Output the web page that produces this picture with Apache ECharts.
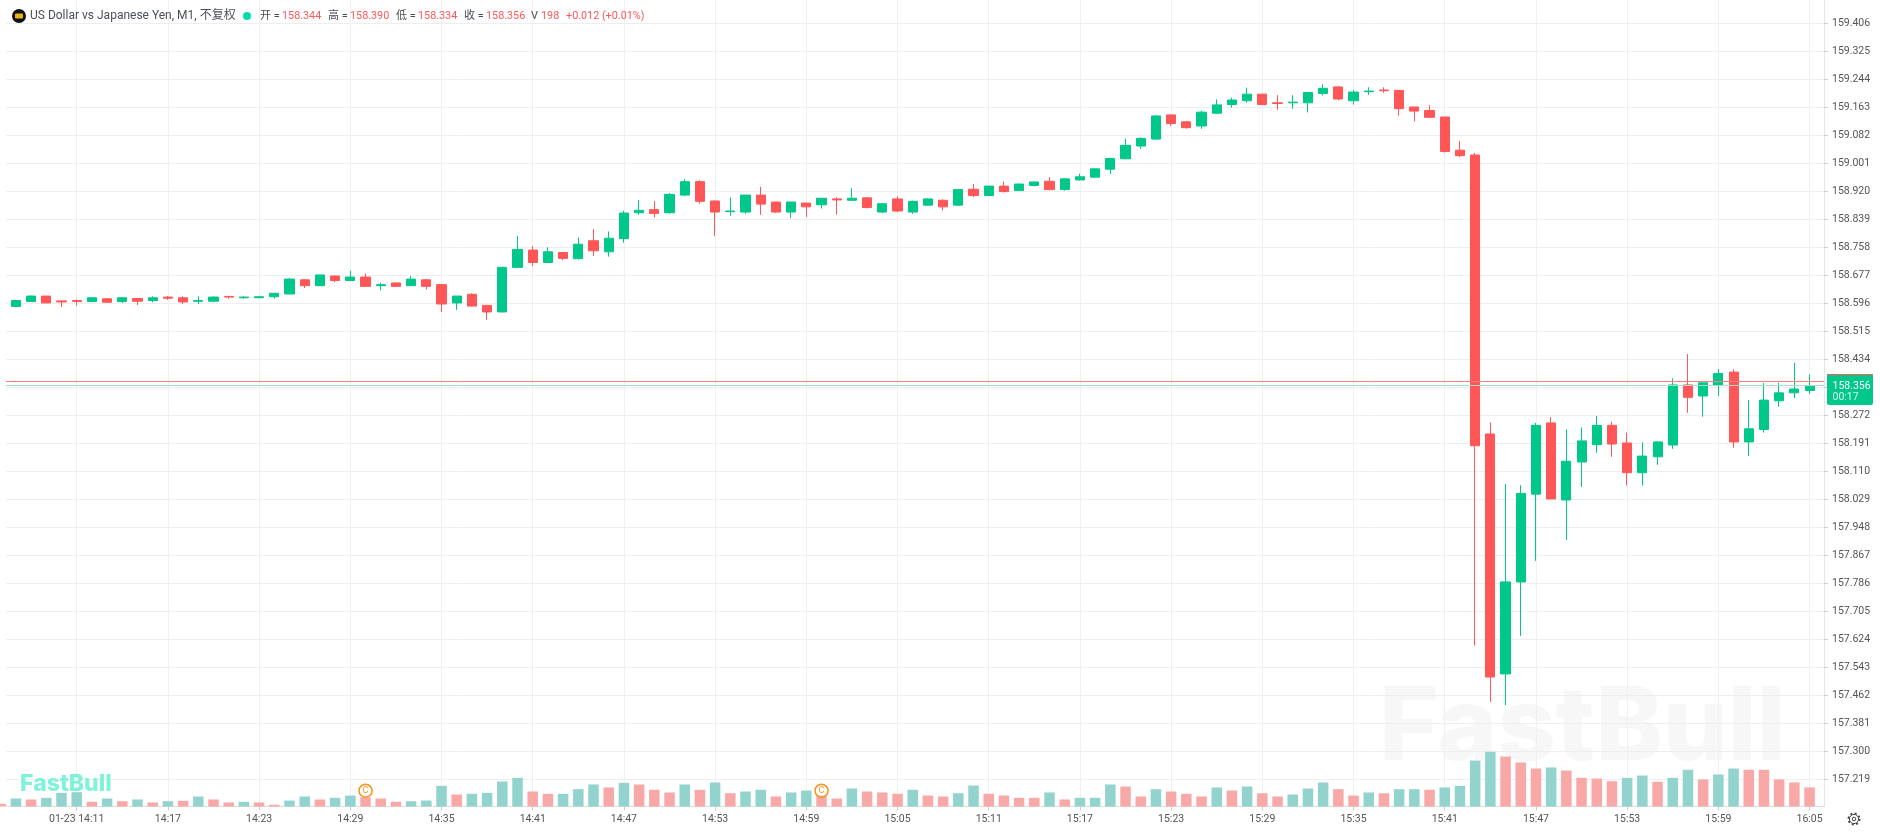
<!DOCTYPE html>
<html lang="zh">
  <head>
    <meta charset="UTF-8" />
    <title>US Dollar vs Japanese Yen, M1</title>
    <script src="https://cdn.jsdelivr.net/npm/echarts@6/dist/echarts.min.js"></script>
    <style>
      body { margin: 0; background: #fff; }
    </style>
  </head>
  <body>
    <div id="main" style="width: 1880px; height: 833px"></div>

    <script type="text/javascript">
      // one entry per minute, 14:06 to 16:05
      const opens = [
        158.597,158.587,158.601,158.617,158.603,158.604,158.601,158.609,158.601,158.610,
        158.604,158.614,158.612,158.602,158.602,158.616,158.612,158.612,158.615,158.623,
        158.664,158.647,158.675,158.662,158.672,158.647,158.655,158.647,158.664,158.650,
        158.597,158.622,158.590,158.571,158.700,158.750,158.714,158.743,158.725,158.777,
        158.745,158.783,158.858,158.867,158.858,158.909,158.948,158.892,158.861,158.860,
        158.909,158.889,158.860,158.886,158.881,158.898,158.894,158.901,158.860,158.898,
        158.860,158.880,158.894,158.880,158.926,158.908,158.935,158.922,158.937,158.949,
        158.925,158.953,158.961,158.984,159.014,159.051,159.071,159.141,159.121,159.109,
        159.146,159.171,159.182,159.201,159.176,159.176,159.176,159.203,159.222,159.182,
        159.208,159.213,159.212,159.164,159.154,159.135,159.039,159.025,158.218,157.524,
        157.790,158.044,158.250,158.027,158.137,158.187,158.243,158.192,158.106,158.152,
        158.186,158.360,158.328,158.360,158.397,158.195,158.231,158.314,158.337,158.344
      ];
      const closes = [
        158.587,158.604,158.617,158.597,158.600,158.601,158.612,158.599,158.612,158.602,
        158.612,158.611,158.600,158.604,158.614,158.614,158.614,158.615,158.625,158.666,
        158.647,158.678,158.662,158.672,158.645,158.650,158.645,158.666,158.645,158.594,
        158.617,158.588,158.571,158.700,158.752,158.714,158.745,158.726,158.767,158.748,
        158.784,158.857,158.865,158.856,158.911,158.948,158.891,158.860,158.863,158.909,
        158.883,158.860,158.889,158.875,158.900,158.895,158.900,158.873,158.884,158.863,
        158.891,158.898,158.875,158.925,158.908,158.935,158.919,158.941,158.947,158.925,
        158.956,158.962,158.985,159.015,159.053,159.073,159.138,159.116,159.104,159.149,
        159.170,159.184,159.201,159.171,159.174,159.178,159.206,159.218,159.187,159.207,
        159.210,159.211,159.159,159.152,159.134,159.035,159.023,158.184,157.515,157.790,
        158.046,158.243,158.030,158.139,158.198,158.243,158.189,158.106,158.154,158.195,
        158.360,158.324,158.366,158.393,158.195,158.233,158.316,158.337,158.348,158.356
      ];
      const lows = [
        158.586,158.585,158.600,158.597,158.585,158.589,158.601,158.598,158.597,158.591,
        158.599,158.606,158.594,158.594,158.599,158.609,158.609,158.611,158.610,158.622,
        158.640,158.647,158.657,158.661,158.643,158.634,158.644,158.646,158.636,158.571,
        158.577,158.587,158.548,158.570,158.698,158.704,158.712,158.721,158.723,158.733,
        158.731,158.771,158.852,158.844,158.855,158.906,158.884,158.791,158.849,158.855,
        158.852,158.857,158.843,158.846,158.870,158.853,158.892,158.871,158.857,158.860,
        158.855,158.878,158.865,158.878,158.903,158.906,158.917,158.921,158.934,158.923,
        158.922,158.951,158.960,158.970,159.013,159.043,159.070,159.109,159.101,159.101,
        159.145,159.162,159.176,159.171,159.156,159.159,159.148,159.197,159.184,159.171,
        159.199,159.205,159.139,159.122,159.134,159.032,159.019,157.606,157.443,157.434,
        157.634,157.851,158.030,157.911,158.065,158.164,158.152,158.069,158.069,158.129,
        158.175,158.279,158.268,158.328,158.178,158.154,158.222,158.297,158.322,158.334
      ];
      const highs = [
        158.598,158.606,158.619,158.617,158.604,158.607,158.614,158.611,158.614,158.611,
        158.616,158.617,158.616,158.616,158.616,158.617,158.617,158.616,158.626,158.670,
        158.666,158.678,158.677,158.690,158.682,158.655,158.655,158.675,158.666,158.652,
        158.617,158.625,158.591,158.702,158.791,158.761,158.758,158.744,158.786,158.811,
        158.804,158.864,158.895,158.892,158.915,158.955,158.952,158.894,158.902,158.909,
        158.933,158.889,158.889,158.886,158.900,158.903,158.929,158.903,158.886,158.905,
        158.893,158.900,158.897,158.927,158.941,158.937,158.948,158.942,158.948,158.961,
        158.957,158.971,158.985,159.016,159.072,159.076,159.140,159.142,159.123,159.153,
        159.186,159.191,159.220,159.201,159.198,159.198,159.206,159.230,159.225,159.213,
        159.221,159.221,159.213,159.164,159.169,159.135,159.066,159.031,158.251,158.073,
        158.070,158.250,158.267,158.231,158.237,158.270,158.253,158.222,158.194,158.197,
        158.379,158.449,158.366,158.406,158.405,158.316,158.365,158.366,158.424,158.390
      ];
      const volumes = [
        28,83,73,90,142,149,49,83,55,73,
        42,55,59,104,73,42,49,42,18,62,
        104,73,90,114,97,83,49,55,62,215,
        125,132,142,260,298,156,132,132,180,229,
        198,246,229,174,146,229,174,250,138,156,
        174,104,146,166,114,83,187,156,146,132,
        174,114,104,138,218,132,114,90,90,146,
        73,90,90,229,208,104,180,156,132,104,
        198,166,208,138,104,125,187,250,180,114,
        146,138,180,180,174,198,215,478,569,520,
        458,395,406,374,298,291,263,298,322,257,
        298,382,281,333,395,382,382,281,250,198
      ];
      // volume bar colour per minute: u = teal, d = pink
      const volumeSides = [
        "duduuududu", "dududduddu", "uduuddduuu", "duuuudduuu",
        "dudddududu", "uduudduddd", "udduuddddu", "duuudduddd",
        "ududduuudd", "uduuduuuud", "ddudddduud", "uuduuddddd",
      ].join("");
      const xTickMinutes = [5,11,17,23,29,35,41,47,53,59,65,71,77,83,89,95,101,107,113,119];
      const xTickLabels = ["01-23 14:11","14:17","14:23","14:29","14:35","14:41","14:47","14:53","14:59","15:05",
        "15:11","15:17","15:23","15:29","15:35","15:41","15:47","15:53","15:59","16:05"];
      const yTicks = [159.406,159.325,159.244,159.163,159.082,159.001,158.920,158.839,158.758,158.677,
        158.596,158.515,158.434,158.353,158.272,158.191,158.110,158.029,157.948,157.867,
        157.786,157.705,157.624,157.543,157.462,157.381,157.300,157.219];
      const eventMinutes = [24, 54];
      const eventLevel = 164;
      const lastClose = 158.356;
      const lastOpenLine = 158.366;

      const UP = "#00C78A";
      const DOWN = "#FF5757";
      const FONT = 'Roboto, "Noto Sans CJK SC", sans-serif';

      const candles = opens.map((o, i) => [i, o, closes[i], lows[i], highs[i]]);
      const volumeBars = volumes.map((v, i) => [i, v]);

      function headerText(x, text, fill, font) {
        return {
          type: "text", x: x, y: 16, z: 10, silent: true,
          style: { text: text, fill: fill, font: font || "12px " + FONT, textVerticalAlign: "middle" },
        };
      }
      function headerValue(x, text) {
        return headerText(x, text, DOWN, "10.8px " + FONT);
      }

      let myChart = echarts.init(document.getElementById("main"));

      myChart.setOption({
        animation: false,
        backgroundColor: "#fff",
        grid: { left: 6, right: 56, top: 0, bottom: 26.5 },
        xAxis: {
          type: "value",
          min: 0.349,
          max: 119.95,
          axisLine: { lineStyle: { color: "#ddd" }, onZero: false },
          axisTick: { length: 4, lineStyle: { color: "#ccc" }, customValues: xTickMinutes },
          axisLabel: {
            customValues: xTickMinutes,
            margin: 8,
            fontSize: 10.5,
            fontFamily: FONT,
            color: "#555",
            formatter: (value) => xTickLabels[xTickMinutes.indexOf(value)],
          },
          splitLine: { show: true, lineStyle: { color: "#f0f0f0" } },
        },
        yAxis: [
          {
            type: "value",
            position: "right",
            min: 157.1404,
            max: 159.4734,
            axisLine: { show: true, lineStyle: { color: "#e6e6e6" } },
            axisTick: { show: true, length: 4, lineStyle: { color: "#ccc" }, customValues: yTicks },
            axisLabel: {
              customValues: yTicks,
              margin: 8,
              fontSize: 10.5,
              fontFamily: FONT,
              color: "#555",
              padding: [2, 0, 0, 0],
              formatter: (value) => value.toFixed(3),
            },
            splitLine: { show: true, lineStyle: { color: "#eeeeee" } },
          },
          { type: "value", min: 0, max: 8388, show: false, splitLine: { show: false } },
        ],
        series: [
          {
            type: "bar",
            yAxisIndex: 1,
            barWidth: 10.5,
            data: volumeBars,
            itemStyle: {
              color: (p) => (volumeSides[p.dataIndex] === "u" ? "#92D3CD" : "#F9A8A8"),
            },
            z: 1,
          },
          {
            type: "candlestick",
            barWidth: 9.6,
            data: candles,
            encode: { x: 0, y: [1, 2, 3, 4] },
            itemStyle: { color: UP, color0: DOWN, borderColor: UP, borderColor0: DOWN, borderWidth: 1 },
            markLine: {
              silent: true,
              symbol: "none",
              label: { show: false },
              data: [
                { yAxis: lastOpenLine, lineStyle: { color: "#FF7F7A", width: 1, type: "solid" } },
                { yAxis: lastClose, lineStyle: { color: "#A5DECD", width: 1, type: "solid" } },
              ],
            },
            z: 3,
          },
          {
            type: "scatter",
            data: eventMinutes.map((m) => [m, eventLevel]),
            yAxisIndex: 1,
            symbol: "circle",
            symbolSize: 13,
            itemStyle: { color: "rgba(255,255,255,0.15)", borderColor: "#F7931A", borderWidth: 1.5, opacity: 1 },
            label: { show: true, position: "inside", formatter: "C", fontSize: 9, fontFamily: FONT, color: "#F7931A" },
            z: 5,
          },
        ],
        graphic: [
          // watermark behind the series
          {
            type: "text", x: 1379, y: 729, z: -1, silent: true,
            style: {
              text: "FastBull", font: "800 102px Inter, sans-serif", fill: "rgba(238,238,238,0.45)",
              textVerticalAlign: "middle", shadowBlur: 12, shadowColor: "rgba(0,0,0,0.06)",
            },
          },
          {
            type: "text", x: 20, y: 784, z: 10, silent: true,
            style: { text: "FastBull", font: "800 23px Inter, sans-serif", fill: "#7FF3DA", textVerticalAlign: "middle" },
          },
          // header
          { type: "circle", shape: { cx: 19, cy: 16, r: 7 }, style: { fill: "#111" }, z: 10, silent: true },
          { type: "rect", shape: { x: 15, y: 13.5, width: 8, height: 5, r: 1 }, style: { fill: "#E8B21E" }, z: 11, silent: true },
          headerText(30, "US Dollar vs Japanese Yen, M1, 不复权", "#4A4F57"),
          { type: "circle", shape: { cx: 247, cy: 16, r: 4 }, style: { fill: "#00DDAA" }, z: 10, silent: true },
          headerText(260, "开 =", "#4A4F57", "11px " + FONT),
          headerValue(282, "158.344"),
          headerText(328, "高 =", "#4A4F57", "11px " + FONT),
          headerValue(350, "158.390"),
          headerText(396, "低 =", "#4A4F57", "11px " + FONT),
          headerValue(418, "158.334"),
          headerText(464, "收 =", "#4A4F57", "11px " + FONT),
          headerValue(486, "158.356"),
          headerText(531, "V", "#4A4F57", "11px " + FONT),
          headerValue(541, "198"),
          headerValue(566, "+0.012 (+0.01%)"),
          // last price box
          { type: "rect", shape: { x: 1827, y: 374, width: 46, height: 31, r: 2 }, style: { fill: UP }, z: 10, silent: true },
          { type: "rect", shape: { x: 1827, y: 374, width: 46, height: 1 }, style: { fill: DOWN }, z: 11, silent: true },
          {
            type: "text", x: 1832.5, y: 386, z: 11, silent: true,
            style: { text: "158.356", font: "10.5px " + FONT, fill: "#fff", textVerticalAlign: "middle" },
          },
          {
            type: "text", x: 1832.5, y: 397, z: 11, silent: true,
            style: { text: "00:17", font: "10.5px " + FONT, fill: "rgba(255,255,255,0.85)", textVerticalAlign: "middle" },
          },
          // settings icon
          { type: "circle", shape: { cx: 1854, cy: 819, r: 5.6 }, style: { fill: "none", stroke: "#444", lineWidth: 1.8, lineDash: [2, 2.4] }, z: 10, silent: true },
          { type: "circle", shape: { cx: 1854, cy: 819, r: 4.6 }, style: { fill: "#fff", stroke: "#444", lineWidth: 1 }, z: 11, silent: true },
          { type: "circle", shape: { cx: 1854, cy: 819, r: 1.8 }, style: { fill: "#fff", stroke: "#444", lineWidth: 1 }, z: 12, silent: true },
        ],
      });
    </script>
  </body>
</html>
